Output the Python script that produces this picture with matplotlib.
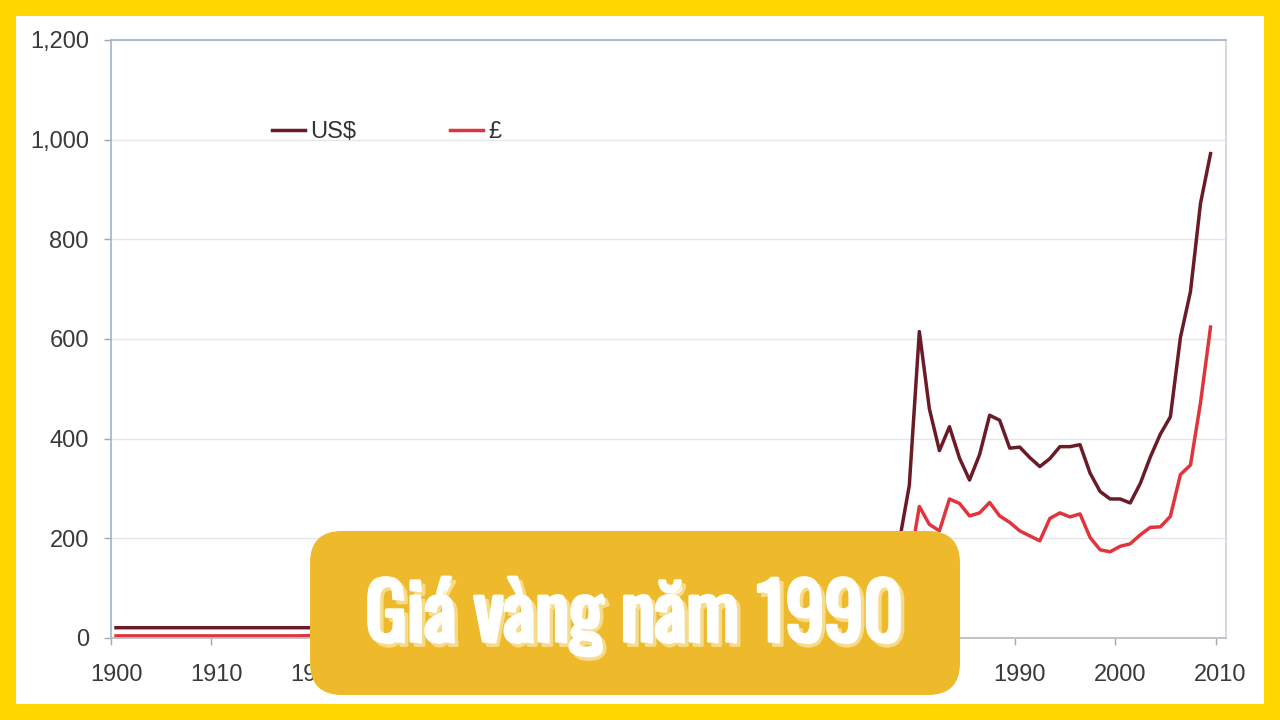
import matplotlib
matplotlib.use("Agg")
import matplotlib.pyplot as plt
import matplotlib.patheffects as pe
from matplotlib.patches import Rectangle, FancyBboxPatch
from matplotlib.transforms import IdentityTransform, ScaledTranslation
from matplotlib.ticker import FuncFormatter
from matplotlib import font_manager as fm

# yearly gold price, 1900 - 2009
years = list(range(1900, 2010))

usd = [
    20.67, 20.67, 20.67, 20.67, 20.67, 20.67, 20.67, 20.67, 20.67, 20.67,
    20.67, 20.67, 20.67, 20.67, 20.67, 20.67, 20.67, 20.67, 20.67, 20.67,
    20.67, 20.67, 20.67, 20.67, 20.67, 20.67, 20.67, 20.67, 20.67, 20.67,
    20.67, 20.67, 20.67, 25.6, 35, 35, 35, 35, 35, 35,
    35, 35, 35, 35, 35, 35, 35, 35, 35, 35,
    35, 35, 35, 35, 35, 35, 35, 35, 35, 35,
    35, 35, 35, 35, 35, 35, 35, 35, 39.3, 41.3,
    36.0, 40.8, 58.2, 97.3, 154, 161, 125, 148, 193, 306,
    615, 460, 376, 424, 361, 317, 368, 447, 437, 381,
    383, 362, 344, 360, 384, 384, 388, 331, 294, 279,
    279, 271, 310, 363, 409, 444, 603, 695, 872, 972,
]

gbp = [
    4.25, 4.25, 4.25, 4.25, 4.25, 4.25, 4.25, 4.25, 4.25, 4.25,
    4.25, 4.25, 4.25, 4.25, 4.25, 4.25, 4.25, 4.25, 4.25, 4.6,
    5.5, 5.2, 4.7, 4.5, 4.7, 4.25, 4.25, 4.25, 4.25, 4.25,
    4.25, 4.9, 5.9, 6.2, 7.0, 7.1, 7.0, 7.0, 7.1, 7.7,
    8.4, 8.4, 8.4, 8.4, 8.4, 8.4, 8.4, 8.4, 8.4, 10.4,
    12.4, 12.4, 12.4, 12.4, 12.4, 12.4, 12.4, 12.4, 12.4, 12.4,
    12.5, 12.5, 12.5, 12.5, 12.5, 12.5, 12.5, 13.0, 16.3, 17.1,
    15.0, 16.8, 23.1, 39.6, 65.8, 72.6, 69.4, 84.8, 100.5, 144.3,
    264, 228, 215, 279, 270, 245, 251, 272, 245, 232,
    215, 205, 195, 240, 251, 243, 249, 202, 177, 173,
    184, 189, 207, 222, 223, 244, 328, 347, 472, 624,
]

series_names = ["US$", "£"]
x_ticks = list(range(1900, 2011, 10))
y_ticks = list(range(0, 1201, 200))
title = "Giá vàng năm 1990"

plt.rcParams['font.family'] = ['Liberation Sans', 'DejaVu Sans']

fig = plt.figure(figsize=(12.8, 7.2), dpi=100, facecolor='#FFD700')
fig.add_artist(Rectangle((16, 16), 1248, 688, transform=IdentityTransform(),
                         facecolor='white', edgecolor='none', zorder=-5))

ax = fig.add_axes([111 / 1280, 82 / 720, 1114.6 / 1280, 598 / 720])
ax.set_zorder(1)

# excel style category axis: points sit between the ticks
xs = [y + 0.5 for y in years]
ax.plot(xs, usd, color='#6a1b26', lw=2.5, label=series_names[0], solid_joinstyle='round')
ax.plot(xs, gbp, color='#e0353d', lw=2.5, label=series_names[1], solid_joinstyle='round')

ax.set_xlim(1900, 2011)
ax.set_ylim(0, 1200)
ax.set_xticks(x_ticks)
ax.set_yticks(y_ticks)
ax.yaxis.set_major_formatter(FuncFormatter(lambda v, p: f"{int(v):,}"))
ax.grid(axis='y', color='#e6e6e6', lw=1)
ax.set_axisbelow(True)
for s in ax.spines.values():
    s.set_color('#a9b7c9')
    s.set_linewidth(1.3)
ax.spines['bottom'].set_color('#b9bec6')
ax.spines['right'].set_color('#cfd6df')
ax.tick_params(axis='both', colors='#a0a8b4', labelcolor='#3a3a3a',
               labelsize=17, length=5, width=1)
ax.tick_params(axis='y', pad=11)
ax.tick_params(axis='x', pad=14)
shift = ScaledTranslation(5 / 100, 0, fig.dpi_scale_trans)
for lab in ax.get_xticklabels():
    lab.set_transform(lab.get_transform() + shift)

leg = ax.legend(loc='center left', bbox_to_anchor=(272 / 1280, 1 - 132 / 720),
                bbox_transform=fig.transFigure, ncol=2, frameon=False, fontsize=17,
                handlelength=1.4, handletextpad=0.2, columnspacing=4.0,
                borderpad=0, borderaxespad=0)
for t in leg.get_texts():
    t.set_color('#333333')

# caption box over the chart
box = FancyBboxPatch((310, 25), 650, 164, boxstyle="round,pad=0,rounding_size=32",
                     transform=IdentityTransform(), facecolor='#EEBA2C',
                     edgecolor='none', zorder=10)
fig.add_artist(box)

names = {f.name for f in fm.fontManager.ttflist}
fam = None
for cand in ['Oswald', 'Roboto Condensed', 'Liberation Sans Narrow', 'DejaVu Sans Condensed']:
    if cand in names:
        fam = cand
        break
kw = dict(family=[fam, 'DejaVu Sans']) if fam else dict(family=['DejaVu Sans'], stretch='condensed')

fs = 60
txt = fig.text(634 / 1280, 79 / 720, title, ha='center', va='baseline',
               color='white', fontsize=fs, fontweight='bold', zorder=11, **kw,
               path_effects=[pe.Stroke(linewidth=2.5, foreground='#f6dc8a', offset=(3, -3)),
                             pe.Stroke(linewidth=2.5, foreground='white'),
                             pe.Normal()])
fig.canvas.draw()
w = txt.get_window_extent().width
txt.set_fontsize(min(fs * 538 / w, 66))

fig.savefig('out.png', dpi=100, facecolor=fig.get_facecolor())
